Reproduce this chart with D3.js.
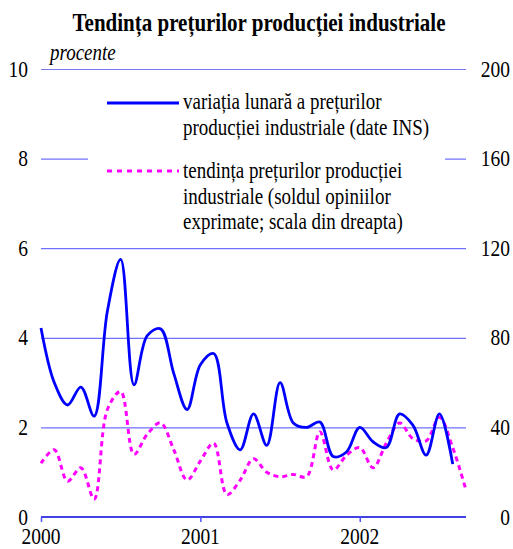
<!DOCTYPE html>
<html>
<head>
<meta charset="utf-8">
<script src="https://cdn.jsdelivr.net/npm/d3@7"></script>
<style>
body { margin: 0; background: #fff; }
</style>
</head>
<body>
<svg width="513" height="549"></svg>
<script>
// monthly data, Jan 2000 .. Sep 2002
var yearTicks = [0, 12, 24];
var yearLabels = ["2000", "2001", "2002"];
var leftTicks = [0, 2, 4, 6, 8, 10];
var rightTicks = [0, 40, 80, 120, 160, 200];

// variatia lunara (left scale), ends Aug 2002
var lunara = [4.22, 3.0, 2.5, 2.9, 2.25, 4.6, 5.75, 2.95, 4.05, 4.2, 3.2, 2.4,
              3.4, 3.65, 2.1, 1.5, 2.3, 1.6, 3.0, 2.1, 2.0, 2.12, 1.35, 1.45,
              2.0, 1.68, 1.55, 2.3, 2.05, 1.38, 2.3, 1.18];
// tendinta (sold opinii, right scale)
var tendinta = [24, 30, 16, 22, 8, 48, 56, 28, 37, 42, 30, 16.5,
                25, 33, 10, 16.5, 26, 20, 18, 19, 18, 38, 21, 27.5,
                31, 22, 33, 42, 35, 34, 44.5, 31, 12];

var svg = d3.select("svg");
var stretch = 1.17;
var serif = "Liberation Serif";

var x = d3.scaleLinear().domain([0, 32]).range([41, 466]);
var yL = d3.scaleLinear().domain([0, 10]).range([517, 69]);
var yR = d3.scaleLinear().domain([0, 200]).range([517, 69]);

var label = function(txt, px, py, size, anchor, extra) {
    var t = svg.append("text")
        .attr("transform", "translate(" + px + "," + py + ") scale(1," + stretch + ")")
        .attr("text-anchor", anchor)
        .attr("font-family", serif)
        .attr("font-size", size)
        .attr("fill", "#000")
        .text(txt);
    if (extra) extra(t);
    return t;
}

// gridlines
svg.append("g").selectAll("line")
    .data(leftTicks.filter(function(d){ return d > 0; }))
    .enter().append("line")
    .attr("x1", x(0)).attr("x2", x(32))
    .attr("y1", function(d){ return yL(d) + 0.5; })
    .attr("y2", function(d){ return yL(d) + 0.5; })
    .attr("stroke", function(d){ return d == 10 ? "#7a7aee" : "#4d4dff"; })
    .attr("stroke-width", 1);

// legend background (breaks the 8 gridline)
svg.append("rect").attr("x", 88).attr("y", 84).attr("width", 357).attr("height", 152).attr("fill", "#fff");

// x axis
svg.append("g")
    .attr("transform", "translate(0," + yL(0) + ")")
    .call(d3.axisBottom(x).tickValues(yearTicks).tickSize(5).tickFormat(""))
    .call(function(g){
        g.select(".domain").attr("stroke", "#0000dd").attr("stroke-width", 1.5).attr("d", "M" + x(0) + ",0H" + x(32));
        g.selectAll(".tick line").attr("stroke", "#5050ff").attr("stroke-width", 1.5);
    });

yearTicks.forEach(function(d, i){
    label(yearLabels[i], x(d), 544, 19.5, "middle");
});
leftTicks.forEach(function(d){
    label(d, 28, yL(d) + 7.5, 19.5, "end");
});
rightTicks.forEach(function(d){
    label(d, 510, yR(d) + 7.5, 19.5, "end");
});

// title + unit
label("Tendința prețurilor producției industriale", 259, 31, 21, "middle", function(t){ t.attr("font-weight", "bold"); });
label("procente", 50, 60, 19, "start", function(t){ t.attr("font-style", "italic"); });

// lines
var lineL = d3.line()
    .x(function(d, i){ return x(i); })
    .y(function(d){ return yL(d); })
    .curve(d3.curveCatmullRom.alpha(0.5));
var lineR = d3.line()
    .x(function(d, i){ return x(i); })
    .y(function(d){ return yR(d); })
    .curve(d3.curveCatmullRom.alpha(0.5));

svg.append("path").datum(tendinta)
    .attr("d", lineR)
    .attr("fill", "none")
    .attr("stroke", "#ff00ff")
    .attr("stroke-width", 3)
    .attr("stroke-dasharray", "5,4");

svg.append("path").datum(lunara)
    .attr("d", lineL)
    .attr("fill", "none")
    .attr("stroke", "#0000ff")
    .attr("stroke-width", 2.8);

// legend
svg.append("line").attr("x1", 107).attr("x2", 179).attr("y1", 103).attr("y2", 103)
    .attr("stroke", "#0000ff").attr("stroke-width", 2.8);
svg.append("line").attr("x1", 107).attr("x2", 179).attr("y1", 171).attr("y2", 171)
    .attr("stroke", "#ff00ff").attr("stroke-width", 3).attr("stroke-dasharray", "5,5");

var leg1 = ["variația lunară a prețurilor", "producției industriale (date INS)"];
var leg2 = ["tendința prețurilor producției", "industriale (soldul opiniilor", "exprimate; scala din dreapta)"];
leg1.forEach(function(s, i){ label(s, 183, 109 + i * 26, 19, "start"); });
leg2.forEach(function(s, i){ label(s, 183, 178 + i * 25.5, 19, "start"); });
</script>
</body>
</html>
